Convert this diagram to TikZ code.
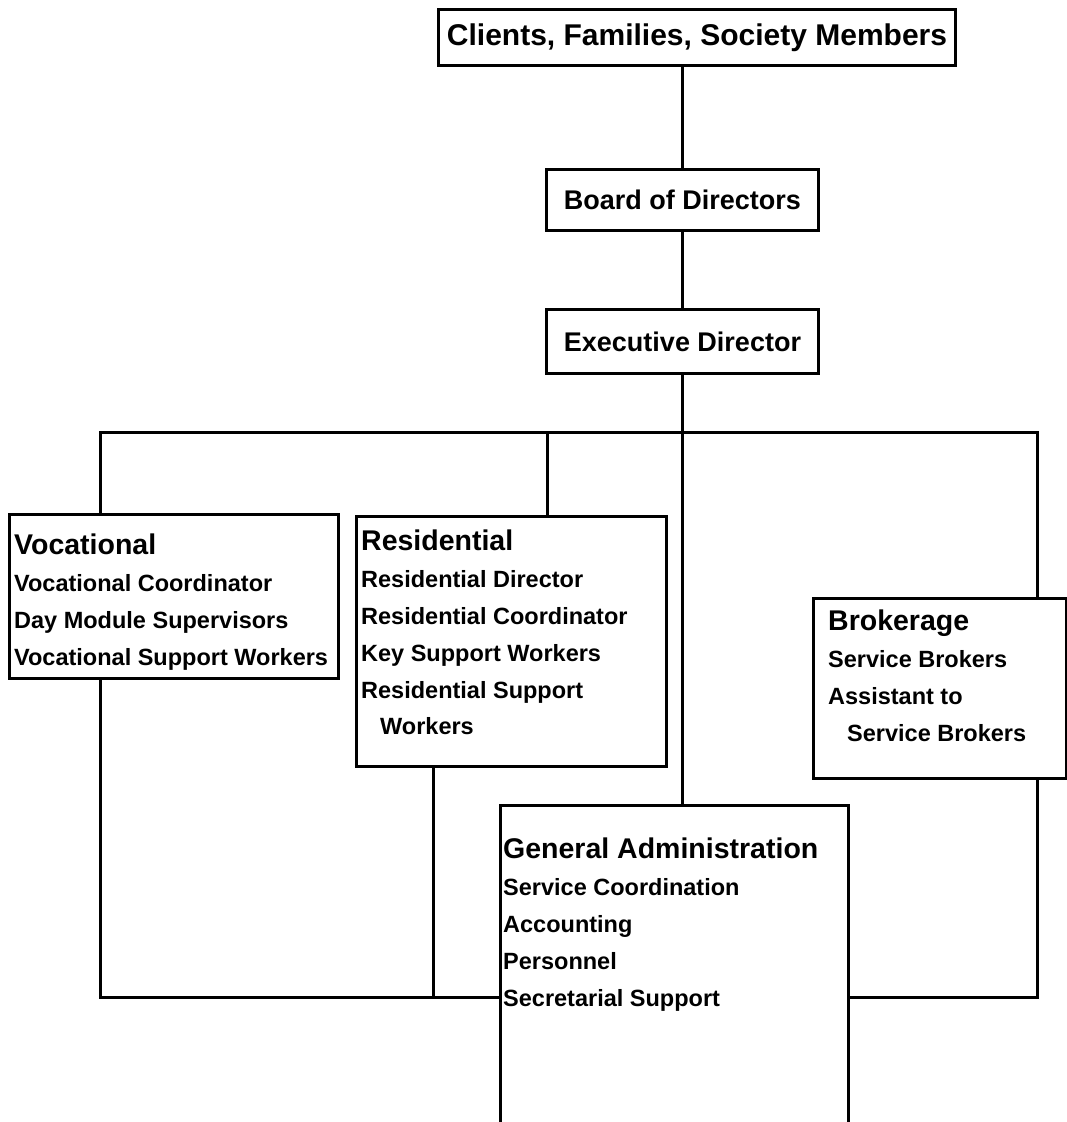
\documentclass[tikz,border=0pt]{standalone}
\usepackage{fontspec}
\setmainfont{Liberation Sans}
\usetikzlibrary{positioning}

\newcommand{\hd}[1]{{\fontsize{28.5}{36.5}\selectfont #1}}
\newcommand{\ind}{\hspace*{19pt}}

\begin{document}
\begin{tikzpicture}[x=1pt,y=1pt,
	unit/.style={draw, line width=3pt, inner sep=0pt, anchor=north west},
	top/.style={font=\bfseries\fontsize{27}{32}\selectfont},
	items/.style={anchor=north west, align=left, inner sep=0pt,
		font=\bfseries\fontsize{23.5}{36.8}\selectfont},
	link/.style={line width=3pt}]
	\useasboundingbox (0,0) rectangle (1067,-1122);
	
	\node[unit, top, font=\bfseries\fontsize{30}{32}\selectfont, minimum width=517, minimum height=56] (clients) at (437,-8) {Clients, Families, Society Members};
	\node[unit, top, minimum width=272, minimum height=61] (board) at (545,-168) {Board of Directors};
	\node[unit, top, minimum width=272, minimum height=64] (exec) at (545,-308) {Executive Director};
	
	\node[unit, minimum width=329, minimum height=164] (voc) at (8,-513) {};
	\node[unit, minimum width=310, minimum height=250] (res) at (355,-515) {};
	\node[unit, minimum width=253, minimum height=180] (brok) at (812,-597) {};
	\node[unit, draw=none, minimum width=345, minimum height=317] (ga) at (500,-805) {};
	\draw[link] (ga.south west) -- (ga.north west) -- (ga.north east) -- (ga.south east);
	
	\node[items] (vocT) at ([shift={(6,-21)}]voc.north west)
		{\hd{Vocational}\\Vocational Coordinator\\Day Module Supervisors\\Vocational Support Workers};
	\node[items] (resT) at ([shift={(6,-15)}]res.north west)
		{\hd{Residential}\\Residential Director\\Residential Coordinator\\Key Support Workers\\Residential Support\\\ind Workers};
	\node[items] (brokT) at ([shift={(16,-13)}]brok.north west)
		{\hd{Brokerage}\\Service Brokers\\Assistant to\\\ind Service Brokers};
	\node[items] (gaT) at ([shift={(3,-33)}]ga.north west)
		{\hd{General Administration}\\Service Coordination\\Accounting\\Personnel\\Secretarial Support};
	
	\coordinate (busL) at (100,-432);
	\coordinate (busR) at (1037,-432);
	\coordinate (resUp) at (547,-432);
	\coordinate (baseL) at (100,-997);
	\coordinate (baseR) at (1037,-997);
	\coordinate (resDn) at (433,-997);
	
	\draw[link] (board.north) -- (board.north |- clients.south);
	\draw[link] (board.south) -- (exec.north);
	\draw[link] (exec.south) -- (exec.south |- ga.north);
	\draw[link] (busL |- voc.north) -- (busL) -- (busR) -- (busR |- brok.north);
	\draw[link] (resUp) -- (resUp |- res.north);
	\draw[link] (busL |- voc.south) -- (baseL) -- (baseL -| ga.west);
	\draw[link] (resDn |- res.south) -- (resDn);
	\draw[link] (baseR |- brok.south) -- (baseR) -- (baseR -| ga.east);
\end{tikzpicture}
\end{document}
